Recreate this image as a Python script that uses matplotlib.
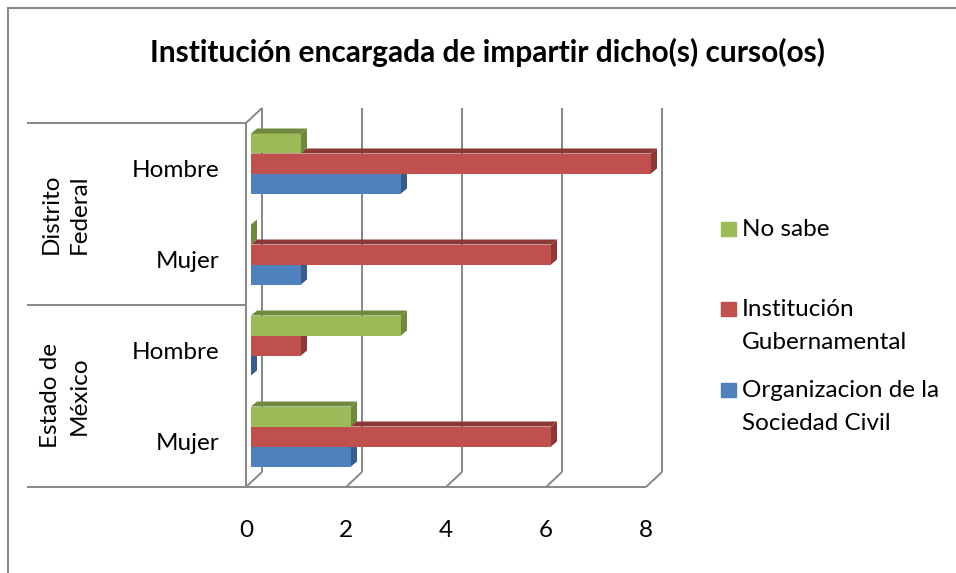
import matplotlib.pyplot as plt
from matplotlib.patches import Polygon, Rectangle
from matplotlib.lines import Line2D

plt.rcParams['font.family'] = ['Lato', 'DejaVu Sans']

# data
categories = ['Hombre', 'Mujer', 'Hombre', 'Mujer']
groups = ['Distrito\nFederal', 'Estado de\nMéxico']
series = ['Organizacion de la\nSociedad Civil', 'Institución\nGubernamental', 'No sabe']
org_civil = [3, 1, 0, 2]
inst_gub = [8, 6, 1, 6]
no_sabe = [1, 0, 3, 2]
xticks = [0, 2, 4, 6, 8]

front = ['#4F81BD', '#C0504D', '#9BBB59']
dark = ['#385D8A', '#8C3836', '#71893F']
grid_c = '#878787'

W, H = 956, 573
fig = plt.figure(figsize=(W / 100, H / 100), dpi=100)
fig.patch.set_facecolor('white')

# axes = front plane of the 3d box
ax = fig.add_axes([246 / W, 1 - 487 / H, 400 / W, 364 / H])
ax.set_xlim(0, 8)
ax.set_ylim(-0.5, 3.5)
for s in ax.spines.values():
    s.set_visible(False)

ppx, ppy = 50.0, 91.0  # pixels per data unit
pos = [3, 2, 1, 0]
bh = 20 / ppy
sx = 5 / ppx
lift = 5 / ppy
ddx, ddy = 6 / ppx, 5 / ppy
bx, by = 16 / ppx, 15 / ppy

# walls / grid
lk = dict(color=grid_c, lw=1.4, clip_on=False, zorder=1, solid_capstyle='butt')
for t in xticks:
    ax.plot([t + bx, t + bx], [-0.5 + by, 3.5 + by], **lk)
    ax.plot([t, t + bx], [-0.5, -0.5 + by], **lk)
ax.plot([0, 0], [-0.5, 3.5], **lk)
ax.plot([0, bx], [3.5, 3.5 + by], **lk)
xl = -219 / ppx
ax.plot([xl, 8], [-0.5, -0.5], **lk)
ax.plot([xl, 0], [3.5, 3.5], **lk)
ax.plot([xl, 0], [1.5, 1.5], **lk)

# bars, bottom to top so the upper bar hides the lower top face
for i, vals in enumerate([org_civil, inst_gub, no_sabe]):
    ys = [p + (i - 1) * bh + lift for p in pos]
    bars = ax.barh(ys, vals, height=bh, left=sx, color=front[i], zorder=3 + i)
    for b in bars:
        b.set_clip_on(False)
    for y, v in zip(ys, vals):
        yb, yt = y - bh / 2, y + bh / 2
        x1 = sx + v
        if v > 0:
            ax.add_patch(Polygon([(sx, yt), (x1, yt), (x1 + ddx, yt + ddy), (sx + ddx, yt + ddy)],
                                 closed=True, color=dark[i], zorder=3 + i, lw=0, clip_on=False))
        ax.add_patch(Polygon([(x1, yb), (x1 + ddx, yb + ddy), (x1 + ddx, yt + ddy), (x1, yt)],
                             closed=True, color=dark[i], zorder=3 + i, lw=0, clip_on=False))

fs = 17.5
ax.set_xticks(xticks)
ax.set_xticklabels([str(t) for t in xticks], fontsize=fs)
ax.set_yticks(pos)
ax.set_yticklabels(categories, fontsize=fs)
ax.tick_params(axis='x', length=0, pad=24)
ax.tick_params(axis='y', length=0, pad=19)

ax.text(-3.62, 2.5, groups[0], rotation=90, ha='center', va='center',
        multialignment='center', fontsize=fs, linespacing=1.42)
ax.text(-3.62, 0.5, groups[1], rotation=90, ha='center', va='center',
        multialignment='center', fontsize=fs, linespacing=1.42)

fig.text(488 / W, 1 - 52 / H, 'Institución encargada de impartir dicho(s) curso(os)',
         ha='center', va='center', fontsize=21.5, fontweight='bold')

# legend
leg_y = [229, 326, 407]
for i, lab in zip([2, 1, 0], [series[2], series[1], series[0]]):
    yc = leg_y[2 - i]
    ytop = yc - 17 if '\n' in lab else yc
    fig.add_artist(Rectangle((721 / W, 1 - (ytop + 7) / H), 15 / W, 14 / H,
                             transform=fig.transFigure, color=front[i]))
    fig.text(742 / W, 1 - yc / H, lab, ha='left', va='center', fontsize=fs, linespacing=1.67)

# chart border
fig.add_artist(Line2D([8 / W, 8 / W], [0, 1 - 8 / H], transform=fig.transFigure, color='#8a8a8a', lw=1.5))
fig.add_artist(Line2D([8 / W, 1], [1 - 8 / H, 1 - 8 / H], transform=fig.transFigure, color='#8a8a8a', lw=1.5))

fig.savefig('out.png', dpi=100)
